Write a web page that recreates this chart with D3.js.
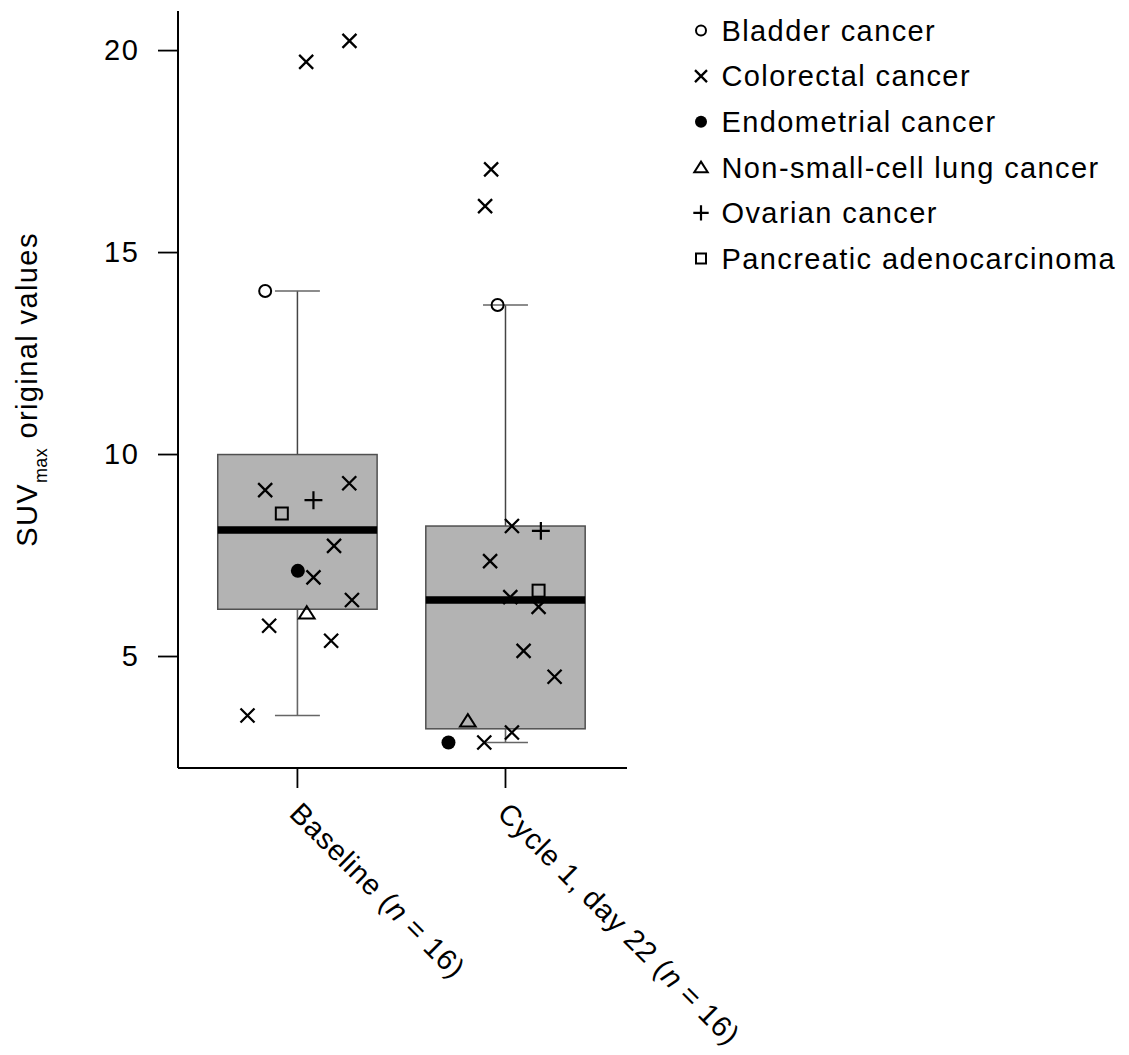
<!DOCTYPE html>
<html>
<head>
<meta charset="utf-8">
<script src="https://cdn.jsdelivr.net/npm/d3@7/dist/d3.min.js"></script>
<style>
  html, body { margin: 0; padding: 0; background: #ffffff; }
  svg { display: block; }
  text { font-family: "Liberation Sans", Arial, Helvetica, sans-serif; fill: #000; }
</style>
</head>
<body>
<svg id="chart" width="1129" height="1055"></svg>
<script>
// ---- data ---------------------------------------------------------------
const groups = ["Baseline", "Cycle 1, day 22"];
const groupN = [16, 16];
const cancerTypes = [
  "Bladder cancer",
  "Colorectal cancer",
  "Endometrial cancer",
  "Non-small-cell lung cancer",
  "Ovarian cancer",
  "Pancreatic adenocarcinoma"
];
const markerShapes = ["circle", "x", "dot", "triangle", "plus", "square"];

// box-plot summaries per group
const whiskerLow  = [3.54, 2.87];
const quartile1   = [6.17, 3.21];
const medians     = [8.13, 6.40];
const quartile3   = [10.0, 8.23];
const whiskerHigh = [14.05, 13.70];

// individual lesions: SUVmax, cancer type index, horizontal jitter (in group units)
const baselineValues = [20.24, 19.72, 14.05, 9.29, 9.12, 8.87, 8.54, 7.74, 7.12, 6.96, 6.40, 6.08, 5.76, 5.39, 3.54];
const baselineTypes  = [1, 1, 0, 1, 1, 4, 5, 1, 2, 1, 1, 3, 1, 1, 1];
const baselineJitter = [0.250, 0.042, -0.155, 0.249, -0.155, 0.077, -0.075, 0.176, 0.002, 0.077, 0.262, 0.045, -0.136, 0.162, -0.240];

const cycleValues = [17.06, 16.15, 13.70, 8.23, 8.11, 7.36, 6.63, 6.47, 6.23, 5.14, 4.50, 3.41, 3.12, 2.87, 2.87];
const cycleTypes  = [1, 1, 0, 1, 4, 1, 5, 1, 1, 1, 1, 3, 1, 2, 1];
const cycleJitter = [-0.069, -0.098, -0.038, 0.031, 0.170, -0.074, 0.159, 0.023, 0.159, 0.087, 0.236, -0.181, 0.031, -0.274, -0.102];

const yTicks = [5, 10, 15, 20];

// ---- layout -------------------------------------------------------------
const svg = d3.select("#chart");
const plot = { left: 178, right: 627, top: 11, bottom: 768 };
const letterSpacing = "1.4px";
const fontSize = 29;

const x = d3.scaleLinear().domain([0.426, 2.584]).range([plot.left, plot.right]);
const y = d3.scaleLinear().domain([2.24, 20.98]).range([plot.bottom, plot.top]);

// ---- marker drawing -----------------------------------------------------
function marker(g, shape, cx, cy, s) {
  // s: half-extent of the glyph in px
  const sw = 2;
  if (shape === "circle") {
    g.append("circle").attr("cx", cx).attr("cy", cy).attr("r", s - 1)
      .attr("fill", "none").attr("stroke", "#000").attr("stroke-width", sw);
  } else if (shape === "dot") {
    g.append("circle").attr("cx", cx).attr("cy", cy).attr("r", s)
      .attr("fill", "#000");
  } else if (shape === "x") {
    const h = s;
    g.append("path")
      .attr("d", `M${cx - h},${cy - h}L${cx + h},${cy + h}M${cx - h},${cy + h}L${cx + h},${cy - h}`)
      .attr("stroke", "#000").attr("stroke-width", sw + 0.3).attr("fill", "none");
  } else if (shape === "plus") {
    const h = s * 1.28;
    g.append("path")
      .attr("d", `M${cx - h},${cy}L${cx + h},${cy}M${cx},${cy - h}L${cx},${cy + h}`)
      .attr("stroke", "#000").attr("stroke-width", sw + 0.2).attr("fill", "none");
  } else if (shape === "square") {
    const h = s - 1;
    g.append("rect").attr("x", cx - h).attr("y", cy - h).attr("width", 2 * h).attr("height", 2 * h)
      .attr("fill", "none").attr("stroke", "#000").attr("stroke-width", sw);
  } else if (shape === "triangle") {
    const w = s * 1.12, ht = s * 0.95;
    g.append("path")
      .attr("d", `M${cx},${cy - ht}L${cx + w},${cy + ht * 0.85}L${cx - w},${cy + ht * 0.85}Z`)
      .attr("fill", "none").attr("stroke", "#000").attr("stroke-width", sw)
      .attr("stroke-linejoin", "miter");
  }
}

// ---- boxes --------------------------------------------------------------
const boxHalf = 0.383;
const capHalf = 0.108;
const boxLayer = svg.append("g");
groups.forEach((gName, i) => {
  const c = i + 1;
  const g = boxLayer.append("g");
  // whiskers and staples
  g.append("line").attr("x1", x(c)).attr("x2", x(c)).attr("y1", y(quartile3[i])).attr("y2", y(whiskerHigh[i]))
    .attr("stroke", "#444").attr("stroke-width", 1.5);
  g.append("line").attr("x1", x(c)).attr("x2", x(c)).attr("y1", y(quartile1[i])).attr("y2", y(whiskerLow[i]))
    .attr("stroke", "#666").attr("stroke-width", 1.6);
  g.append("line").attr("x1", x(c - capHalf)).attr("x2", x(c + capHalf)).attr("y1", y(whiskerHigh[i])).attr("y2", y(whiskerHigh[i]))
    .attr("stroke", "#666").attr("stroke-width", 1.6);
  g.append("line").attr("x1", x(c - capHalf)).attr("x2", x(c + capHalf)).attr("y1", y(whiskerLow[i])).attr("y2", y(whiskerLow[i]))
    .attr("stroke", "#666").attr("stroke-width", 1.6);
  // box
  g.append("rect")
    .attr("x", x(c - boxHalf)).attr("width", x(c + boxHalf) - x(c - boxHalf))
    .attr("y", y(quartile3[i])).attr("height", y(quartile1[i]) - y(quartile3[i]))
    .attr("fill", "#b3b3b3").attr("stroke", "#505050").attr("stroke-width", 1.5);
});

// ---- points -------------------------------------------------------------
const pointLayer = svg.append("g");
[[baselineValues, baselineTypes, baselineJitter], [cycleValues, cycleTypes, cycleJitter]]
  .forEach(([vals, types, jit], i) => {
    vals.forEach((v, k) => {
      marker(pointLayer, markerShapes[types[k]], x(i + 1 + jit[k]), y(v), 7);
    });
  });

// medians on top
const medLayer = svg.append("g");
groups.forEach((gName, i) => {
  const c = i + 1;
  medLayer.append("line")
    .attr("x1", x(c - boxHalf)).attr("x2", x(c + boxHalf))
    .attr("y1", y(medians[i])).attr("y2", y(medians[i]))
    .attr("stroke", "#000").attr("stroke-width", 7.5);
});

// ---- axes ---------------------------------------------------------------
const yAxis = svg.append("g")
  .attr("transform", `translate(${plot.left},0)`)
  .call(d3.axisLeft(y).tickValues(yTicks).tickSize(20).tickSizeOuter(0).tickPadding(20).offset(0));
yAxis.select(".domain").attr("stroke", "#000").attr("stroke-width", 2);
yAxis.selectAll(".tick line").attr("stroke", "#000").attr("stroke-width", 1.8);
yAxis.selectAll(".tick text")
  .attr("font-size", fontSize)
  .attr("letter-spacing", letterSpacing)
  .attr("dx", "0.04em")
  .attr("fill", "#000")
  .style("font-family", '"Liberation Sans", Arial, sans-serif');

const xAxis = svg.append("g")
  .attr("transform", `translate(0,${plot.bottom})`)
  .call(d3.axisBottom(x).tickValues([1, 2]).tickSize(20).tickSizeOuter(0).tickFormat("").offset(0));
xAxis.select(".domain").attr("stroke", "#000").attr("stroke-width", 2);
xAxis.selectAll(".tick line").attr("stroke", "#000").attr("stroke-width", 1.8);

// rotated category labels
groups.forEach((gName, i) => {
  const t = svg.append("text")
    .attr("transform", `translate(${x(i + 1) - 9.5},815) rotate(45)`)
    .attr("font-size", fontSize)
    .attr("letter-spacing", "0.8px")
    .attr("text-anchor", "start");
  t.append("tspan").text(`${gName} (`);
  t.append("tspan").attr("font-style", "italic").text("n");
  t.append("tspan").text(` = ${groupN[i]})`);
});

// y-axis title with subscript
const yTitle = svg.append("text")
  .attr("transform", `translate(37,${(plot.top + plot.bottom) / 2}) rotate(-90)`)
  .attr("font-size", fontSize)
  .attr("letter-spacing", letterSpacing)
  .attr("text-anchor", "middle");
yTitle.append("tspan").text("SUV");
yTitle.append("tspan").attr("font-size", 18).attr("letter-spacing", "0.3px").attr("dy", 10).text("max");
yTitle.append("tspan").attr("dy", -10).text(" original values");

// ---- legend -------------------------------------------------------------
const legend = svg.append("g");
cancerTypes.forEach((name, k) => {
  const cy = 30.5 + k * 45.6;
  marker(legend, markerShapes[k], 701, cy, 6);
  legend.append("text")
    .attr("x", 721.5).attr("y", cy + 10.3)
    .attr("font-size", fontSize)
    .attr("letter-spacing", letterSpacing)
    .text(name);
});
</script>
</body>
</html>
